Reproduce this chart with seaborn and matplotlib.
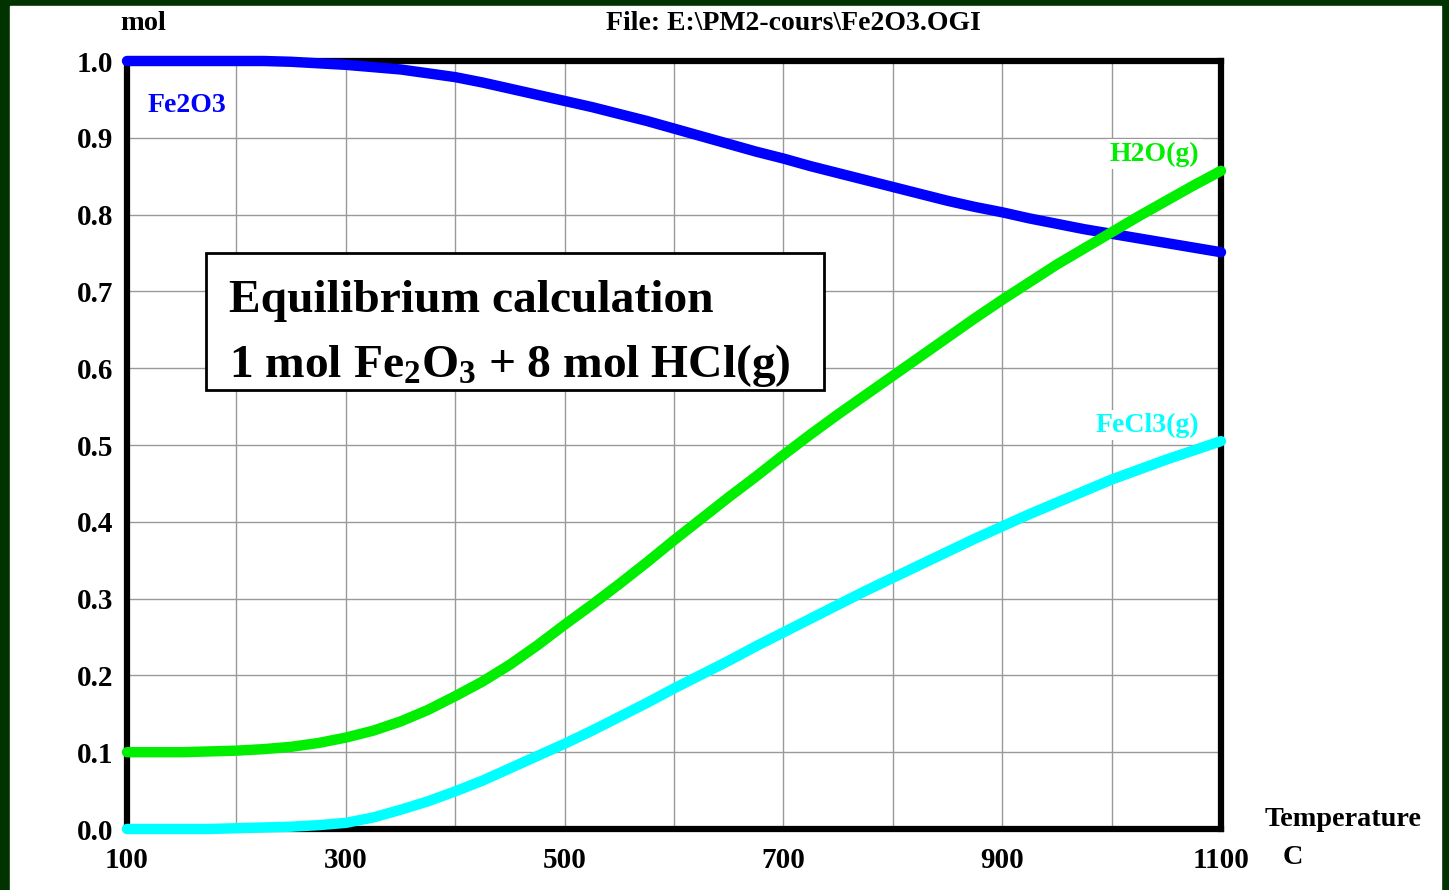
import numpy as np
import pandas as pd
import matplotlib
matplotlib.use("Agg")
import matplotlib.pyplot as plt
from matplotlib.patches import Rectangle
import seaborn as sns

# ========== DATOS ==========
temps = list(range(100, 1101, 25))
fe2o3 = [1.000, 1.000, 1.000, 1.000, 1.000, 1.000, 0.999, 0.997, 0.995, 0.992,
         0.989, 0.984, 0.979, 0.972, 0.964, 0.956, 0.948, 0.940, 0.931, 0.922,
         0.912, 0.902, 0.892, 0.882, 0.873, 0.863, 0.854, 0.845, 0.836, 0.827,
         0.818, 0.810, 0.803, 0.795, 0.788, 0.781, 0.775, 0.769, 0.763, 0.757,
         0.751]
h2o = [0.100, 0.100, 0.100, 0.101, 0.102, 0.104, 0.107, 0.112, 0.119, 0.128,
       0.140, 0.155, 0.173, 0.192, 0.214, 0.239, 0.266, 0.292, 0.319, 0.347,
       0.376, 0.404, 0.432, 0.459, 0.487, 0.514, 0.540, 0.565, 0.590, 0.615,
       0.640, 0.665, 0.689, 0.712, 0.735, 0.756, 0.777, 0.798, 0.818, 0.838,
       0.857]
fecl3 = [0.000, 0.000, 0.000, 0.000, 0.001, 0.002, 0.003, 0.005, 0.008, 0.015,
         0.025, 0.036, 0.049, 0.063, 0.079, 0.095, 0.111, 0.128, 0.146, 0.164,
         0.183, 0.201, 0.219, 0.238, 0.256, 0.274, 0.292, 0.310, 0.327, 0.344,
         0.361, 0.378, 0.394, 0.410, 0.425, 0.440, 0.455, 0.468, 0.481, 0.493,
         0.505]
species = ["Fe2O3", "H2O(g)", "FeCl3(g)"]
colores = {"Fe2O3": "#0000ff", "H2O(g)": "#00ee00", "FeCl3(g)": "#00ffff"}
xticks = list(range(100, 1101, 100))
yticks = [round(0.1 * i, 1) for i in range(11)]

df = pd.DataFrame({"T": temps, "Fe2O3": fe2o3, "H2O(g)": h2o, "FeCl3(g)": fecl3})
df = df.melt("T", var_name="species", value_name="mol")

# ========== ESTILO ==========
sns.set_theme(style="whitegrid", rc={"grid.color": "#999999", "grid.linewidth": 1.0})
plt.rcParams["font.family"] = ["Liberation Serif", "DejaVu Serif"]
plt.rcParams["font.weight"] = "bold"
plt.rcParams["text.color"] = "black"
plt.rcParams["mathtext.fontset"] = "custom"
plt.rcParams["mathtext.rm"] = "Liberation Serif:bold"
plt.rcParams["mathtext.default"] = "rm"

W, H = 1449, 890


def px(x, y):
    return x / W, 1 - y / H


fig = plt.figure(figsize=(W / 100, H / 100), dpi=100, facecolor="#003300")
fig.patches.append(Rectangle((10 / W, 0), (1441 - 10) / W, (H - 6) / H,
                             transform=fig.transFigure, color="white", zorder=-1))

ax = fig.add_axes([127 / W, 1 - 829 / H, (1221 - 127) / W, (829 - 61) / H])
ax.set_facecolor("white")

sns.lineplot(data=df, x="T", y="mol", hue="species", hue_order=species,
             palette=colores, linewidth=7.5, legend=False, ax=ax)
for linea in ax.lines:
    linea.set_clip_on(False)
    linea.set_solid_capstyle("round")
    linea.set_solid_joinstyle("round")
    linea.set_zorder(4)

ax.set_xlim(100, 1100)
ax.set_ylim(0, 1.0)
ax.set_xticks(xticks)
ax.set_xticklabels([str(v) if (v - 100) % 200 == 0 else "" for v in xticks])
ax.set_yticks(yticks)
ax.set_yticklabels([f"{v:.1f}" for v in yticks])
ax.tick_params(axis="x", length=0, pad=13, labelsize=21, colors="black")
ax.tick_params(axis="y", length=0, pad=10, labelsize=21, colors="black")
ax.set_xlabel("")
ax.set_ylabel("")
ax.grid(True, color="#999999", linewidth=1.0)
for s in ax.spines.values():
    s.set_visible(True)
    s.set_color("black")
    s.set_linewidth(4.5)
    s.set_zorder(3)

# ========== TEXTOS ==========
fig.text(*px(120, 24), "mol", ha="left", va="center", size=20.5, weight="bold")
fig.text(*px(606, 24), "File: E:\\PM2-cours\\Fe2O3.OGI", ha="left", va="center",
         size=20, weight="bold")
fig.text(*px(1265, 819), "Temperature", ha="left", va="center", size=20.3, weight="bold")
fig.text(*px(1283, 858), "C", ha="left", va="center", size=20.3, weight="bold")

caja = dict(facecolor="white", edgecolor="none", pad=2)
fig.text(*px(148, 105), "Fe2O3", ha="left", va="center", size=20, weight="bold",
         color=colores["Fe2O3"], bbox=caja, zorder=5)
fig.text(*px(1199, 154), "H2O(g)", ha="right", va="center", size=20, weight="bold",
         color=colores["H2O(g)"], bbox=caja, zorder=5)
fig.text(*px(1199, 425), "FeCl3(g)", ha="right", va="center", size=20, weight="bold",
         color=colores["FeCl3(g)"], bbox=caja, zorder=5)

fig.patches.append(Rectangle(px(206, 390), (824 - 206) / W, (390 - 253) / H,
                             transform=fig.transFigure, facecolor="white",
                             edgecolor="black", linewidth=2, zorder=5))
fig.text(*px(229, 312), "Equilibrium calculation", ha="left", va="baseline",
         size=34.2, weight="bold", zorder=6)
fig.text(*px(229, 377), "1 mol Fe$_2$O$_3$ + 8 mol HCl(g)", ha="left", va="baseline",
         size=34.2, weight="bold", zorder=6)

fig.savefig("out.png", dpi=100, facecolor=fig.get_facecolor())
plt.close(fig)
